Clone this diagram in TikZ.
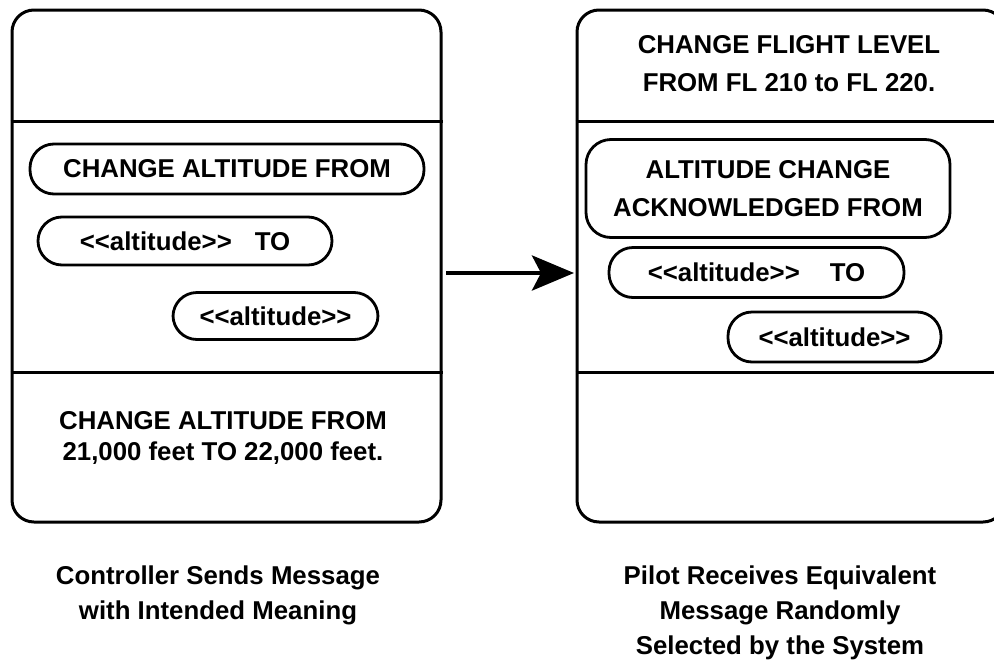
\documentclass[tikz,border=0pt]{standalone}
\usepackage{fontspec}
\setmainfont{Liberation Sans}
\usetikzlibrary{arrows.meta}
\begin{document}
\begin{tikzpicture}[x=1pt,y=-1pt,
  panel/.style={draw, line width=3pt, rounded corners=22pt, inner sep=0pt},
  divider/.style={line width=3pt},
  pill/.style={draw, line width=2.8pt, rounded corners=24pt, inner sep=0pt,
    font=\fontsize{25.8}{31}\selectfont\bfseries},
  txt/.style={inner sep=0pt, align=center, font=\fontsize{25.8}{#1}\selectfont\bfseries},
  arrowline/.style={line width=4.5pt, -{Stealth[length=42pt,width=35pt,inset=9pt]}}
]
\path[use as bounding box] (0,0) rectangle (994,662);
\clip (0,0) rectangle (994,662);

% panels
\node[panel, minimum width=429pt, minimum height=512pt] (L) at (226.5,266) {};
\node[panel, minimum width=428pt, minimum height=512pt] (R) at (791,266) {};
\draw[divider] (L.west |- 0,121) -- (L.east |- 0,121);
\draw[divider] (L.west |- 0,372) -- (L.east |- 0,372);
\draw[divider] (R.west |- 0,121) -- (R.east |- 0,121);
\draw[divider] (R.west |- 0,372) -- (R.east |- 0,372);

% left panel contents
\node[pill, minimum width=394pt, minimum height=50pt] (p1) at (227,169) {CHANGE ALTITUDE FROM};
\node[pill, minimum width=294pt, minimum height=48pt] (p2) at (185,241) {{<}{<}altitude{>}{>}\hspace{23pt}TO};
\node[pill, minimum width=205pt, minimum height=47pt] (p3) at (275.5,316) {{<}{<}altitude{>}{>}};
\node[txt=31] (lbot) at (223,438) {CHANGE ALTITUDE FROM\\21,000 feet TO 22,000 feet.};

% right panel contents
\node[txt=38] (rtop) at (789,64) {CHANGE FLIGHT LEVEL\\FROM FL 210 to FL 220.};
\node[pill, rounded corners=25pt, minimum width=364pt, minimum height=98pt, align=center,
  font=\fontsize{25.8}{37.5}\selectfont\bfseries] (r1) at (768,188.5) {ALTITUDE CHANGE\\ACKNOWLEDGED FROM};
\node[pill, minimum width=295pt, minimum height=50pt] (r2) at (756.5,272.5) {{<}{<}altitude{>}{>}\hspace{30pt}TO};
\node[pill, minimum width=213pt, minimum height=50pt] (r3) at (834.5,337) {{<}{<}altitude{>}{>}};

% arrow
\draw[arrowline, shorten <=3.5pt, shorten >=1.5pt] ([yshift=-7pt]L.east) -- ([yshift=-7pt]R.west);

% captions
\node[txt=35] (capL) at (218,595) {Controller Sends Message\\with Intended Meaning};
\node[txt=35] (capR) at (780,613) {Pilot Receives Equivalent\\Message Randomly\\Selected by the System};
\end{tikzpicture}
\end{document}
